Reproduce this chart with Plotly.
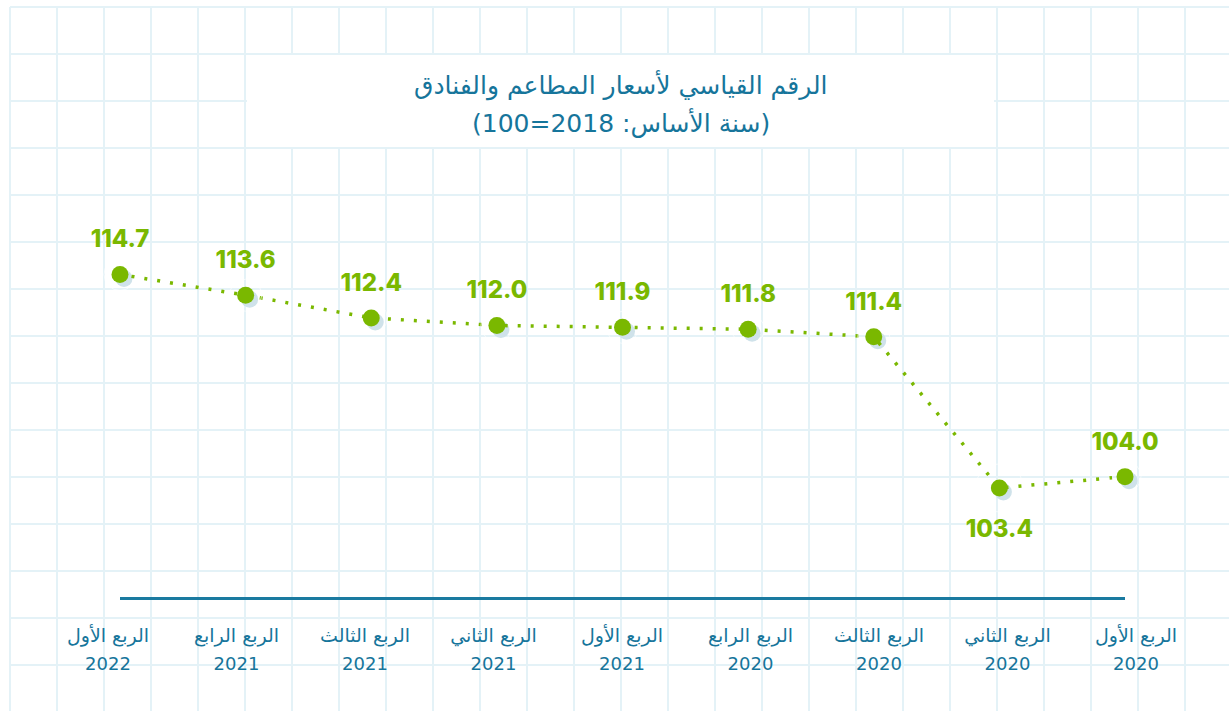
import plotly.graph_objects as go

# ---- data (chronological order; x axis drawn reversed, right-to-left) ----
quarters = ["الربع الأول", "الربع الثاني", "الربع الثالث", "الربع الرابع",
            "الربع الأول", "الربع الثاني", "الربع الثالث", "الربع الرابع",
            "الربع الأول"]
years = ["2020", "2020", "2020", "2020", "2021", "2021", "2021", "2021", "2022"]
values = [104.0, 103.4, 111.4, 111.8, 111.9, 112.0, 112.4, 113.6, 114.7]
label_pos = ["top center", "bottom center", "top center", "top center", "top center",
             "top center", "top center", "top center", "top center"]

title_line1 = "الرقم القياسي لأسعار المطاعم والفنادق"
title_line2 = "(سنة الأساس: 2018=100)"

categories = [f"{q} {y}" for q, y in zip(quarters, years)]
idx = list(range(len(categories)))

# ---- figure geometry (pixels) ----
W, H = 1229, 711
px_left, px_right = 120, 1125
px_lab_left, px_lab_right = 108, 1136
px_top, px_bottom = 200, 597
shadow_dx, shadow_dy = 4, 4

GREEN = "#7ab800"
TEAL = "#16759b"
GRID = "#e4f2f7"
SHADOW = "#cfe2ea"

def fx(p):
    return p / W

def fy(p):
    return 1 - p / H

y_range = [97.63, 118.64]
x_range = [len(categories) - 1, 0]

label_marker_sizes = [32 if p.startswith("top") else 48 for p in label_pos]

fig = go.Figure()

# shadow markers (subplot xy, shifted a few pixels right/down)
fig.add_trace(go.Scatter(
    x=categories, y=values, mode="markers",
    marker=dict(size=17, color=SHADOW),
    cliponaxis=False, hoverinfo="skip", showlegend=False,
    xaxis="x", yaxis="y",
))

# main line + markers (subplot x2y2)
fig.add_trace(go.Scatter(
    x=categories, y=values, mode="lines+markers",
    line=dict(color=GREEN, width=3.5, dash="3px,10px"),
    marker=dict(size=17, color=GREEN),
    cliponaxis=False, showlegend=False,
    xaxis="x2", yaxis="y2",
))

# value labels
fig.add_trace(go.Scatter(
    x=categories, y=values, mode="markers+text",
    text=[f"{v:.1f}" for v in values],
    textposition=label_pos,
    textfont=dict(family="Inter", size=24, color=GREEN, weight=800),
    marker=dict(size=label_marker_sizes, color="rgba(0,0,0,0)"),
    cliponaxis=False, hoverinfo="skip", showlegend=False,
    xaxis="x2", yaxis="y2",
))

# invisible carriers for the two category-label axes
for ax in ("x3", "x4"):
    fig.add_trace(go.Scatter(
        x=idx, y=values, mode="markers",
        marker=dict(size=1, color="rgba(0,0,0,0)"),
        hoverinfo="skip", showlegend=False,
        xaxis=ax, yaxis="y2",
    ))

# ---- background grid paper and title box ----
shapes = []
gx = 10
while gx < W:
    shapes.append(dict(type="line", xref="paper", yref="paper",
                       x0=fx(gx), x1=fx(gx), y0=0, y1=fy(7),
                       line=dict(color=GRID, width=2), layer="below"))
    gx += 47
gy = 7
while gy < H:
    shapes.append(dict(type="line", xref="paper", yref="paper",
                       x0=fx(10), x1=1, y0=fy(gy), y1=fy(gy),
                       line=dict(color=GRID, width=2), layer="below"))
    gy += 47
shapes.append(dict(type="rect", xref="paper", yref="paper",
                   x0=fx(247), x1=fx(994), y0=fy(147), y1=fy(55),
                   fillcolor="white", line=dict(width=0), layer="below"))

label_axis = dict(domain=[fx(px_lab_left), fx(px_lab_right)],
                  range=x_range, anchor="y2", showgrid=False, zeroline=False,
                  showline=False, ticks="", tickmode="array", tickvals=idx,
                  automargin=False, fixedrange=True)

fig.update_layout(
    width=W, height=H,
    margin=dict(l=0, r=0, t=0, b=0),
    paper_bgcolor="white",
    plot_bgcolor="rgba(0,0,0,0)",
    shapes=shapes,
    showlegend=False,
    xaxis=dict(domain=[fx(px_left + shadow_dx), fx(px_right + shadow_dx)],
               range=x_range, type="category", visible=False, anchor="y"),
    yaxis=dict(domain=[fy(px_bottom + shadow_dy), fy(px_top + shadow_dy)],
               range=y_range, visible=False, anchor="x"),
    xaxis2=dict(domain=[fx(px_left), fx(px_right)],
                range=x_range, type="category", anchor="y2",
                showgrid=False, zeroline=False,
                showline=True, linecolor="#1a7aa0", linewidth=2.5,
                ticks="", showticklabels=False, automargin=False),
    yaxis2=dict(domain=[fy(px_bottom), fy(px_top)],
                range=y_range, anchor="x2", visible=False),
    xaxis3={**label_axis, "ticktext": quarters, "ticklabelstandoff": 25,
            "tickfont": dict(family="DejaVu Sans", size=19, color=TEAL)},
    xaxis4={**label_axis, "ticktext": years, "ticklabelstandoff": 54,
            "tickfont": dict(family="DejaVu Sans", size=18, color=TEAL)},
    annotations=[
        dict(text=title_line1,
             xref="paper", yref="paper", x=fx(621), y=fy(85),
             xanchor="center", yanchor="middle", showarrow=False,
             font=dict(family="DejaVu Sans", size=25, color=TEAL)),
        dict(text=title_line2,
             xref="paper", yref="paper", x=fx(621), y=fy(122),
             xanchor="center", yanchor="middle", showarrow=False,
             font=dict(family="DejaVu Sans", size=25, color=TEAL)),
    ],
)

fig.write_html("out.html", config={"displayModeBar": False},
               post_script="document.body.style.margin='0';")
